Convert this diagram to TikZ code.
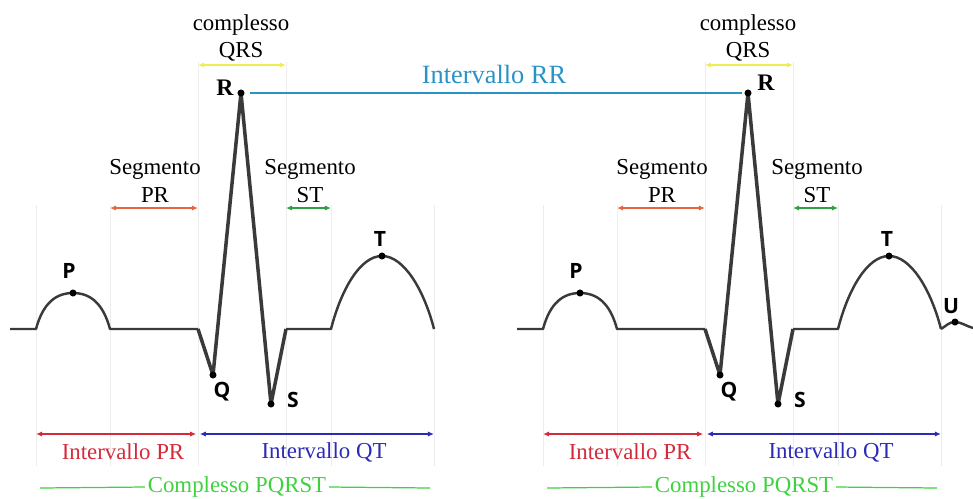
\documentclass[tikz,border=0pt]{standalone}
\usepackage{fontspec}
\setmainfont{Liberation Serif}
\newfontfamily\wavefont{Open Sans}
\usetikzlibrary{arrows.meta}

\definecolor{ecggray}{HTML}{3A3A3A}
\definecolor{qrsyellow}{HTML}{EEEE50}
\definecolor{prorange}{HTML}{E8653F}
\definecolor{stgreen}{HTML}{2EA043}
\definecolor{rrblue}{HTML}{2A93C6}
\definecolor{intred}{HTML}{D42A3A}
\definecolor{qtblue}{HTML}{2B2BB5}
\definecolor{pqrstgreen}{HTML}{3ED23E}

\begin{document}
\begin{tikzpicture}[x=0.02cm,y=-0.02cm,
  wave/.style={ecggray,line width=1.4pt,line join=round},
  spike/.style={ecggray,line width=2pt,line join=round},
  guide/.style={black!7,line width=0.5pt},
  span/.style={line width=0.7pt,{Latex[length=3.5pt,width=3pt]}-{Latex[length=3.5pt,width=3pt]}},
  txt/.style={font=\fontsize{13}{15.5}\selectfont,align=center,inner sep=0pt},
  wlbl/.style={font=\wavefont\bfseries\fontsize{12}{12}\selectfont,inner sep=0pt},
  rlbl/.style={font=\bfseries\fontsize{13.5}{13.5}\selectfont,inner sep=0pt},
  peak/.style={circle,fill=black,inner sep=0pt,minimum size=4pt}]

  \useasboundingbox (0,0) rectangle (973,498);
  \coordinate (qrsy) at (0,65);
  \coordinate (segy) at (0,208);
  \coordinate (inty) at (0,434);

  \foreach \o/\b in {0/a,507/b}{
    % key points of one beat
    \coordinate (B0\b) at (10+\o,329);
    \coordinate (P0\b) at (36+\o,329);
    \coordinate (P\b)  at (73+\o,293);
    \coordinate (P1\b) at (110+\o,329);
    \coordinate (Q0\b) at (198+\o,329);
    \coordinate (Q\b)  at (213+\o,375);
    \coordinate (R\b)  at (241+\o,93);
    \coordinate (S\b)  at (271+\o,404);
    \coordinate (S1\b) at (286+\o,329);
    \coordinate (T0\b) at (331+\o,329);
    \coordinate (T\b)  at (382+\o,256);
    \coordinate (T1\b) at (434+\o,329);
    % faint guides
    \foreach \gx/\gy in {36/205,110/205,198/62,286/62,331/205,434/205}
      \draw[guide] (\gx+\o,\gy) -- (\gx+\o,466);
    % trace
    \draw[wave] (B0\b) -- (P0\b) .. controls (43+\o,303) and (56+\o,293) .. (P\b)
      .. controls (90+\o,293) and (103+\o,303) .. (P1\b) -- (Q0\b);
    \draw[spike] (Q0\b) -- (Q\b) -- (R\b) -- (S\b) -- (S1\b);
    \draw[wave] (S1\b) -- (T0\b) .. controls (341+\o,290) and (360+\o,256) .. (T\b)
      .. controls (404+\o,256) and (424+\o,290) .. (T1\b);
    \foreach \p in {P,Q,R,S,T} \node[peak] (\p d\b) at (\p\b) {};
    \node[wlbl] (Pl\b) at (69+\o,271) {P};
    \node[wlbl] (Ql\b) at (222+\o,392) {Q};
    \node[wlbl] (Sl\b) at (293+\o,400) {S};
    \node[wlbl] (Tl\b) at (380+\o,239) {T};
    % spans
    \node[txt] (qrs\b) at (241+\o,38) {complesso\\QRS};
    \draw[span,qrsyellow] (Q0\b |- qrsy) -- (S1\b |- qrsy);
    \node[txt] (segpr\b) at (155+\o,181) {Segmento\\PR};
    \draw[span,prorange] (P1\b |- segy) -- (Q0\b |- segy);
    \node[txt] (segst\b) at (310+\o,181) {Segmento\\ST};
    \draw[span,stgreen] (S1\b |- segy) -- (T0\b |- segy);
    \draw[span,intred,shorten >=1pt] (P0\b |- inty) -- (Q0\b |- inty);
    \node[txt,intred] (intpr\b) at (123+\o,452) {Intervallo PR};
    \draw[span,qtblue,shorten <=1pt] (Q0\b |- inty) -- (T1\b |- inty);
    \node[txt,qtblue] (intqt\b) at (324+\o,452) {Intervallo QT};
    \node[txt,pqrstgreen,inner sep=1.5pt] (pqrst\b) at (237+\o,487) {Complesso PQRST};
    \coordinate (pq0\b) at (40+\o,488);
    \coordinate (pq1\b) at (430+\o,488);
    \draw[pqrstgreen,line width=0.7pt] (pq0\b) -- (pqrst\b.west);
    \draw[pqrstgreen,line width=0.7pt] (pqrst\b.east) -- (pq1\b);
  }

  % U wave on the second beat
  \coordinate (Ub) at (955,322);
  \coordinate (U1b) at (973,328);
  \draw[wave] (T1b) .. controls (946,326) and (949,322) .. (Ub)
    .. controls (961,322) and (966,326) .. (U1b);
  \node[peak] (Udb) at (Ub) {};
  \node[wlbl] (Ulb) at (951,306) {U};

  \node[rlbl] (Rla) at (225,88) {R};
  \node[rlbl] (Rlb) at (766,83) {R};

  % R to R
  \draw[rrblue,line width=1.4pt] ([xshift=0.18cm]Ra) -- ([xshift=-0.12cm]Rb);
  \node[txt,rrblue,font=\fontsize{15}{15}\selectfont] (rr) at (494,74) {Intervallo RR};
\end{tikzpicture}
\end{document}
